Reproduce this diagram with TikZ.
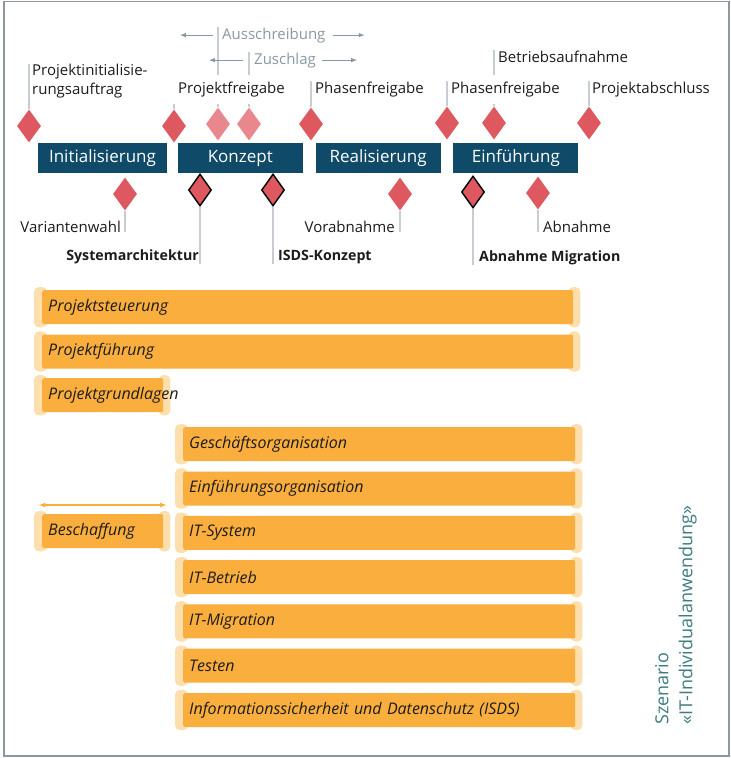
\documentclass[tikz,border=0pt]{standalone}
\usepackage{fontspec}
\setmainfont{Open Sans}
\usetikzlibrary{shapes.geometric, backgrounds, calc}

\definecolor{phaseblue}{RGB}{15,74,104}
\definecolor{msred}{RGB}{221,89,95}
\definecolor{mspink}{RGB}{232,136,142}
\definecolor{barorange}{RGB}{249,174,61}
\definecolor{barcap}{RGB}{253,223,174}
\definecolor{stampgray}{RGB}{138,152,165}
\definecolor{tiegray}{RGB}{200,205,211}
\definecolor{framegray}{RGB}{142,150,158}
\definecolor{scenteal}{RGB}{62,124,128}
\definecolor{inkblack}{RGB}{28,28,28}

\hyphenpenalty=10000

\tikzset{%
  % Specifications for style of nodes:
      phasebox/.style = {rectangle, fill=phaseblue, text=white, minimum width=125pt, minimum height=30pt, node distance=137.8pt, font=\fontsize{17}{20}\selectfont},
            ms/.style = {diamond, fill=msred, minimum width=24pt, minimum height=33pt, inner sep=0pt},
       mslight/.style = {ms, fill=mspink},
        msgate/.style = {ms, draw=black, line width=1.4pt, minimum width=23pt, minimum height=32pt},
         mstag/.style = {inner sep=0pt, text=inkblack, font=\fontsize{15}{19}\selectfont},
     mstagmask/.style = {mstag, fill=white, inner xsep=1pt, inner ysep=7pt},
        keytag/.style = {mstag, font=\bfseries\fontsize{14.2}{19}\selectfont},
     stampnote/.style = {mstag, text=stampgray},
          task/.style = {rectangle, rounded corners=2pt, fill=barorange, minimum height=34pt, inner xsep=6pt, inner ysep=0pt, align=left, text=inkblack, node distance=44.3pt, font=\itshape\fontsize{16}{19}\selectfont},
      longtask/.style = {task, text width=519pt},
       midtask/.style = {task, text width=380pt},
     shorttask/.style = {task, text width=109pt},
        barend/.style = {fill=barcap, rounded corners=5pt},
           tie/.style = {draw=tiegray, line width=1.3pt},
         stamp/.style = {draw=stampgray, line width=1pt, -latex},
       spanarr/.style = {draw=barorange, line width=1.2pt, latex-latex},
}

\begin{document}
\begin{tikzpicture}[x=1pt, y=-1pt]
    \useasboundingbox (0,0) rectangle (731,758);
    \draw[framegray, line width=1.5pt] (4,1.5) rectangle (729,756);

    % Draw phases
    \node (init)  [phasebox, minimum width=129pt] at (102.5,158) {Initialisierung};
    \node (konz)  [phasebox, right of = init]  {Konzept};
    \node (real)  [phasebox, right of = konz]  {Realisierung};
    \node (einf)  [phasebox, right of = real]  {Einführung};

    % Draw milestones
    \node (pia)  [ms]      at (29,126)  {};
    \node (pfg)  [ms]      at (174,126) {};
    \node (aus)  [mslight] at (218,124) {};
    \node (zus)  [mslight] at (249,124) {};
    \node (phk)  [ms]      at (311,124) {};
    \node (phr)  [ms]      at (447,123) {};
    \node (bta)  [ms]      at (494,123) {};
    \node (pab)  [ms]      at (589,123) {};

    \node (vaw)  [ms]      at (125,194) {};
    \node (sya)  [msgate]  at (200,190) {};
    \node (isk)  [msgate]  at (273,190) {};
    \node (vab)  [ms]      at (400,194) {};
    \node (abm)  [msgate]  at (473,192) {};
    \node (abn)  [ms]      at (538,193) {};

    % Milestone labels
    \node (piatext) [mstag, align=left, anchor=north west] at (32,64) {Projektinitialisie-\\rungsauftrag};
    \node (pfgtext) [mstagmask, anchor=base west] at (177,93)  {Projektfreigabe};
    \node (austext) [stampnote, anchor=base west] at (222,39)  {Ausschreibung};
    \node (zustext) [stampnote, anchor=base west] at (254,64)  {Zuschlag};
    \node (phktext) [mstag, anchor=base west]     at (315,93)  {Phasenfreigabe};
    \node (phrtext) [mstagmask, anchor=base west] at (450,93)  {Phasenfreigabe};
    \node (btatext) [mstag, anchor=base west]     at (498,62)  {Betriebsaufnahme};
    \node (pabtext) [mstag, anchor=base west]     at (592,93)  {Projektabschluss};

    \node (vawtext) [mstag, anchor=base east]     at (121,232) {Variantenwahl};
    \node (syatext) [keytag, anchor=base east]    at (199,260) {Systemarchitektur};
    \node (isktext) [keytag, anchor=base west]    at (278,260) {ISDS-Konzept};
    \node (vabtext) [mstag, anchor=base east]     at (395,232) {Vorabnahme};
    \node (abmtext) [keytag, anchor=base west]    at (479,261) {Abnahme Migration};
    \node (abntext) [mstag, anchor=base west]     at (543,232) {Abnahme};

    % Draw bars
    \node (pst) [longtask, anchor=north west] at (42,290) {Projektsteuerung};
    \node (pfu) [longtask, below of = pst] {Projektführung};
    \node (pgr) [shorttask, anchor=north west] at (42,378) {Projektgrundlagen};

    \node (geo) [midtask, anchor=north west] at (183,427) {Geschäftsorganisation};
    \node (ein) [midtask, below of = geo] {Einführungsorganisation};
    \node (its) [midtask, below of = ein] {IT-System};
    \node (itb) [midtask, below of = its] {IT-Betrieb};
    \node (itm) [midtask, below of = itb] {IT-Migration};
    \node (tst) [midtask, below of = itm] {Testen};
    \node (isd) [midtask, below of = tst] {Informationssicherheit und Datenschutz (ISDS)};

    \node (bes) [shorttask, anchor=north west] at (42,514) {Beschaffung};

    \node (scen) [rotate=90, anchor=north west, align=left, inner sep=0pt, text=scenteal, font=\fontsize{18}{24}\selectfont] at (655,725) {Szenario\\«IT-Individualanwendung»};

    % Draw arrows
    \draw[stamp]   ([xshift=-9pt]austext.west) -- ([xshift=-42pt]austext.west);
    \draw[stamp]   ([xshift=7pt]austext.east) -- ([xshift=39pt]austext.east);
    \draw[stamp]   ([xshift=-11pt]zustext.west) -- ([xshift=-45pt]zustext.west);
    \draw[stamp]   ([xshift=6pt]zustext.east) -- ([xshift=41pt]zustext.east);
    \draw[spanarr] ([xshift=-3pt,yshift=9pt]bes.north west) -- ([xshift=3pt,yshift=9pt]bes.north east);

    \begin{scope}[on background layer]
      % milestone ties
      \draw[tie] (pia.north) -- (pia.north |- piatext.north);
      \draw[tie] (pfg.north) -- (pfg.north |- pfgtext.south);
      \draw[tie] (aus.north) -- (aus.north |- austext.north);
      \draw[tie] (zus.north) -- (zus.north |- zustext.north);
      \draw[tie] (phk.north) -- (phk.north |- phktext.north);
      \draw[tie] (phr.north) -- ($(phr.north |- phrtext.north)+(0,7)$);
      \draw[tie] (bta.north) -- (bta.north |- btatext.north);
      \draw[tie] (pab.north) -- (pab.north |- pabtext.north);

      \draw[tie] (vaw.south) -- (vaw.south |- vawtext.south);
      \draw[tie] (sya.south) -- (sya.south |- syatext.south);
      \draw[tie] (isk.south) -- (isk.south |- isktext.south);
      \draw[tie] (vab.south) -- (vab.south |- vabtext.south);
      \draw[tie] (abm.south) -- (abm.south |- abmtext.south);
      \draw[tie] (abn.south) -- (abn.south |- abntext.south);

      % bar ends
      \foreach \b in {pst, pfu, pgr, geo, ein, its, itb, itm, tst, isd, bes} {
        \fill[barend] ([xshift=-8pt,yshift=3pt]\b.north west) rectangle ([xshift=5pt,yshift=-3pt]\b.south west);
        \fill[barend] ([xshift=-5pt,yshift=3pt]\b.north east) rectangle ([xshift=7pt,yshift=-3pt]\b.south east);
      }
    \end{scope}
\end{tikzpicture}
\end{document}
